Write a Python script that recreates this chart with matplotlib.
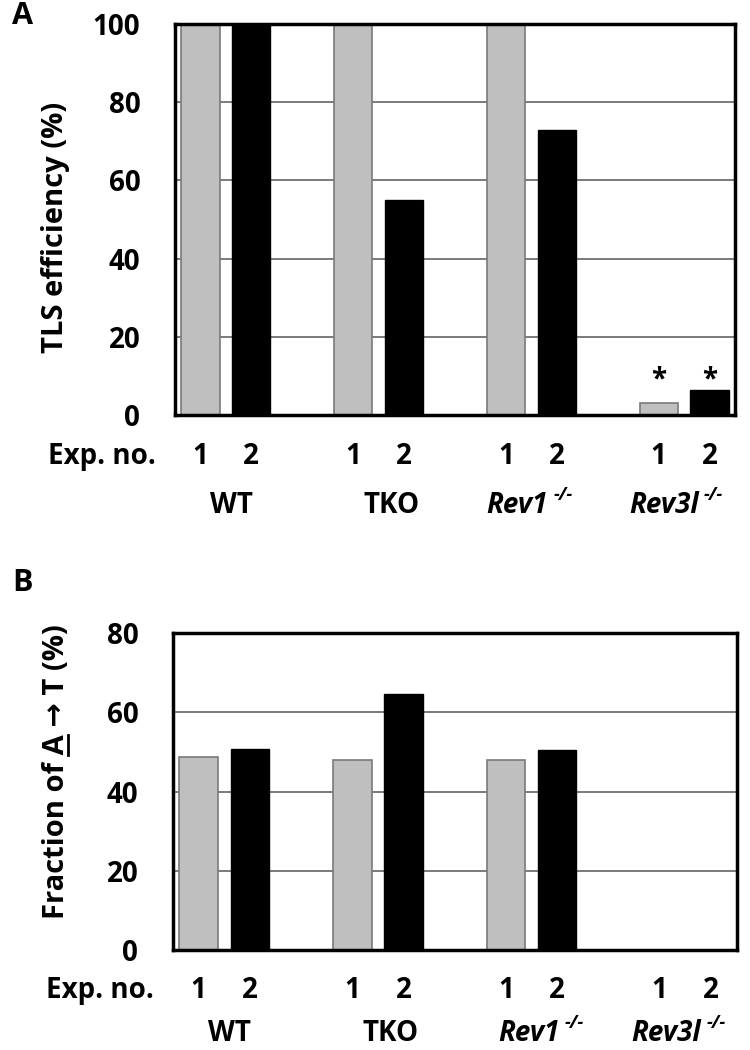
import matplotlib
matplotlib.use('Agg')
import matplotlib.pyplot as plt
from matplotlib.lines import Line2D
from matplotlib.transforms import IdentityTransform

plt.rcParams['font.family'] = ['Open Sans', 'DejaVu Sans']
plt.rcParams['font.weight'] = 'bold'

# data
groups = ['WT', 'TKO', 'Rev1', 'Rev3l']
italic_groups = [False, False, True, True]
exp_labels = ['1', '2']
tls_exp1 = [100, 100, 100, 3.1]
tls_exp2 = [100, 55, 73, 6.4]
tls_signif = [False, False, False, True]
frac_exp1 = [48.6, 47.9, 47.9, 0]
frac_exp2 = [50.8, 64.7, 50.6, 0]

GRAY = '#bfbfbf'
GRID = '#6f6f6f'
FS = 20


def draw_panel(ax, v1, v2, ymax, num_off, grp_off, group_dx):
    pos1 = [3 * i for i in range(len(groups))]
    pos2 = [p + 1 for p in pos1]
    for y in range(20, ymax, 20):
        ax.axhline(y, color=GRID, lw=1.3, zorder=0)
    ax.bar(pos1, v1, width=0.75, color=GRAY, edgecolor='#7a7a7a',
           linewidth=1.2, zorder=2)
    ax.bar(pos2, v2, width=0.75, color='black', edgecolor='black',
           linewidth=1.0, zorder=2)
    ax.set_xlim(-0.5, 10.5)
    ax.set_ylim(0, ymax)
    ax.set_yticks(range(0, ymax + 1, 20))
    ax.set_xticks([])
    ax.tick_params(axis='y', length=0, pad=25, labelsize=FS)
    for s in ax.spines.values():
        s.set_linewidth(2.5)
        s.set_color('black')

    ax.annotate('Exp. no.', xy=(0, 0), xycoords='axes fraction',
                xytext=(-14, num_off), textcoords='offset points',
                ha='right', va='center', fontsize=FS)
    for i, g in enumerate(groups):
        for p, lab in zip((pos1[i], pos2[i]), exp_labels):
            ax.annotate(lab, xy=(p, 0), xycoords=('data', 'axes fraction'),
                        xytext=(0, num_off), textcoords='offset points',
                        ha='center', va='center', fontsize=FS)
        t = ax.annotate(g, xy=(pos1[i] + group_dx[i], 0),
                        xycoords=('data', 'axes fraction'),
                        xytext=(0, grp_off), textcoords='offset points',
                        ha='center', va='center', fontsize=20,
                        style='italic' if italic_groups[i] else 'normal')
        if italic_groups[i]:
            ax.annotate('-/-', xy=(1, 0.85), xycoords=t,
                        xytext=(4, 0), textcoords='offset points',
                        ha='left', va='center', fontsize=13, style='italic')


fig = plt.figure(figsize=(7.5, 10.5), dpi=100)
ax1 = fig.add_axes([0.2333, 0.6048, 0.7467, 0.3724])
ax2 = fig.add_axes([0.2307, 0.0952, 0.7513, 0.3019])

draw_panel(ax1, tls_exp1, tls_exp2, 100, -30, -65, [0.6, 0.75, 0.22, 0.1])
draw_panel(ax2, frac_exp1, frac_exp2, 80, -29, -60, [0.6, 0.75, 0.44, 0.13])

# asterisks over the Rev3l bars
for i, s in enumerate(tls_signif):
    if s:
        ax1.text(3 * i, 9, '*', ha='center', va='center', fontsize=20)
        ax1.text(3 * i + 1, 9, '*', ha='center', va='center', fontsize=20)

# y labels
fig.text(56 / 750, 1 - 227 / 1050, 'TLS efficiency (%)', rotation=90,
         ha='center', va='center', fontsize=21)
pre, mid = 'Fraction of ', 'A'
lab = fig.text(57 / 750, 1 - 772 / 1050, pre + mid + ' \u2192 T (%)',
               rotation=90, ha='center', va='center', fontsize=21)

# underline the A in the panel B label
renderer = fig.canvas.get_renderer()
bb = lab.get_window_extent(renderer)
tmp1 = fig.text(0, 0, pre + mid, fontsize=21)
tmp2 = fig.text(0, 0, mid, fontsize=21)
w_end = tmp1.get_window_extent(renderer).width
w_a = tmp2.get_window_extent(renderer).width
_, _, descent = renderer.get_text_width_height_descent(
    'lp', tmp1.get_fontproperties(), ismath=False)
tmp1.remove()
tmp2.remove()
ux = bb.x1 - descent + 3
fig.add_artist(Line2D([ux, ux], [bb.y0 + w_end - w_a, bb.y0 + w_end],
                      transform=IdentityTransform(), color='black', lw=2))

fig.text(0.016, 0.985, 'A', fontsize=22, ha='left', va='center')
fig.text(0.016, 0.445, 'B', fontsize=22, ha='left', va='center')

fig.savefig('out.png', dpi=100, facecolor='white')
